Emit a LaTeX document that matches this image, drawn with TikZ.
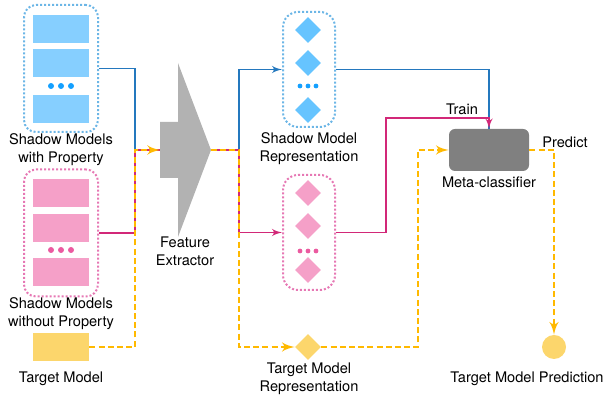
\documentclass[tikz,border=0pt]{standalone}
\usepackage{fontspec}
\setmainfont{TeX Gyre Heros}
\usetikzlibrary{arrows, shapes.geometric, positioning}

\definecolor{boxblue}{RGB}{134,207,255}
\definecolor{diablue}{RGB}{102,196,255}
\definecolor{dotblue}{RGB}{20,160,255}
\definecolor{edgeblue}{RGB}{108,182,230}
\definecolor{lineblue}{RGB}{36,120,190}
\definecolor{boxpink}{RGB}{245,160,200}
\definecolor{dotpink}{RGB}{235,90,160}
\definecolor{edgepink}{RGB}{230,120,180}
\definecolor{linepink}{RGB}{210,40,120}
\definecolor{tgtyellow}{RGB}{252,214,108}
\definecolor{lineyellow}{RGB}{255,185,0}
\definecolor{fegray}{RGB}{178,178,178}
\definecolor{metagray}{RGB}{128,128,128}

\tikzstyle{blk}=[inner sep=0pt, minimum width=28pt, minimum height=14pt]
\tikzstyle{cont}=[draw, line width=1pt, dash pattern=on 1pt off 1pt]
\tikzstyle{dia}=[diamond, aspect=1, inner sep=0pt, minimum size=13pt]
\tikzstyle{lbl}=[align=center, inner sep=0pt, font=\fontsize{7.3}{9}\selectfont]
\tikzstyle{bline}=[draw=lineblue, line width=0.75pt]
\tikzstyle{pline}=[draw=linepink, line width=0.75pt]
\tikzstyle{yline}=[draw=lineyellow, line width=1.2pt, dash pattern=on 3pt off 1.6pt]

\begin{document}
\begin{tikzpicture}[x=0.5pt,y=-0.5pt,>=latex']
      \useasboundingbox (0,0) rectangle (605,399);
      % shadow models with property
      \node [blk, fill=boxblue] (bsm1) at (61,29) {};
      \node [blk, fill=boxblue] (bsm2) at (61,63) {};
      \node [blk, fill=boxblue] (bsm3) at (61,109) {};
      \foreach \x in {51,61,71} \fill[dotblue] (\x,86) circle (1.5pt);
      \node [cont, draw=edgeblue, rounded corners=6pt, minimum width=37pt, minimum height=63.5pt] (bsm) at (61,68.5) {};
      \node [lbl] (bsmtext) at (61,150) {Shadow Models\\with Property};
      % shadow models without property
      \node [blk, fill=boxpink] (psm1) at (61,193) {};
      \node [blk, fill=boxpink] (psm2) at (61,228) {};
      \node [blk, fill=boxpink] (psm3) at (61,272) {};
      \foreach \x in {51,61,71} \fill[dotpink] (\x,250) circle (1.5pt);
      \node [cont, draw=edgepink, rounded corners=6pt, minimum width=37pt, minimum height=63.5pt] (psm) at (61,233) {};
      \node [lbl] (psmtext) at (61,314) {Shadow Models\\without Property};
      % target model
      \node [blk, fill=tgtyellow] (tm) at (61,347) {};
      \node [lbl] (tmtext) at (61,379) {Target Model};
      % feature extractor
      \fill[fegray] (160,122) -- (178,122) -- (178,63) -- (211,150) -- (178,237) -- (178,178) -- (160,178) -- cycle;
      \coordinate (fetail) at (160,150);
      \coordinate (fetip) at (211,150);
      \node [lbl] (fetext) at (185,251) {Feature\\Extractor};
      \coordinate (jin) at (135,150);
      \coordinate (jout) at (239,150);
      % representations
      \node [dia, fill=diablue] (bsr1) at (308,30) {};
      \node [dia, fill=diablue] (bsr2) at (308,63) {};
      \node [dia, fill=diablue] (bsr3) at (308,110) {};
      \foreach \x in {300,308,316} \fill[dotblue] (\x,86) circle (1.2pt);
      \node [cont, draw=edgeblue, rounded corners=7.5pt, minimum width=26pt, minimum height=57.5pt] (bsr) at (309,69.5) {};
      \node [lbl] (bsrtext) at (309,149) {Shadow Model\\Representation};
      \node [dia, fill=boxpink] (prr1) at (308,193) {};
      \node [dia, fill=boxpink] (prr2) at (308,226) {};
      \node [dia, fill=boxpink] (prr3) at (308,270) {};
      \foreach \x in {300,308,316} \fill[dotpink] (\x,251) circle (1.2pt);
      \node [cont, draw=edgepink, rounded corners=7.5pt, minimum width=26pt, minimum height=57.5pt] (prr) at (309,232.5) {};
      \node [dia, fill=tgtyellow] (tmr) at (308,347) {};
      \node [lbl] (tmrtext) at (309,379) {Target Model\\Representation};
      % meta-classifier
      \node [fill=metagray, rounded corners=3pt, minimum width=40pt, minimum height=21pt] (meta) at (489,150) {};
      \node [lbl] (metatext) at (489,182) {Meta-classifier};
      \node [circle, fill=tgtyellow, inner sep=0pt, minimum size=12pt] (pred) at (554,347) {};
      \node [lbl] (predtext) at (527,379) {Target Model Prediction};
      \coordinate (pturn) at (386,118);
      \coordinate (yturn) at (418,150);
      % connectors
      \draw[bline] (bsm.east) -| (jin) -- (fetail);
      \draw[pline] (psm.east) -| (jin) -- (fetail);
      \draw[yline, ->] (tm.east) -| (jin) -- (fetail);
      \draw[bline, ->] (fetip) -- (jout) |- (bsr.west);
      \draw[pline, ->] (fetip) -- (jout) |- (prr.west);
      \draw[yline, ->] (fetip) -- (jout) |- (tmr.west);
      \draw[bline] (bsr.east) -| (meta.north);
      \draw[pline, ->] (prr.east) -| (pturn) -| (meta.north);
      \node [lbl] (traintext) at (462,109) {Train};
      \draw[yline, ->] (tmr.east) -| (yturn) -- (meta.west);
      \draw[yline, ->] (meta.east) -| (pred.north);
      \node [lbl] (predicttext) at (565,142) {Predict};
\end{tikzpicture}
\end{document}
